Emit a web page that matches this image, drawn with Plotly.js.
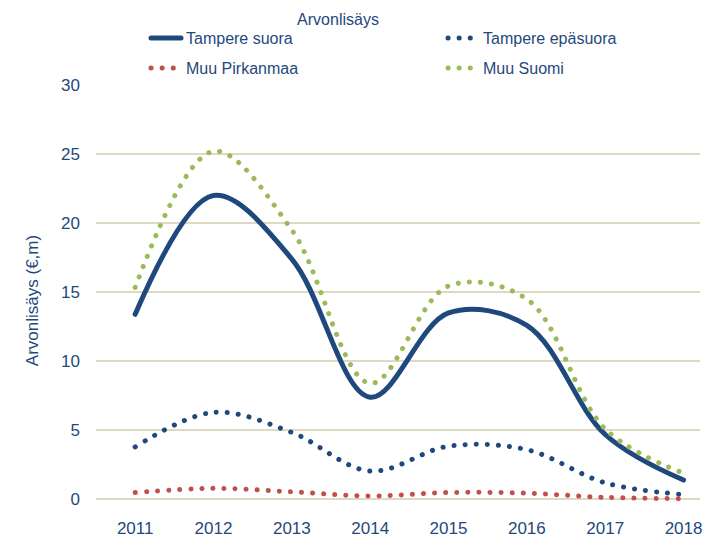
<!DOCTYPE html>
<html>
<head>
<meta charset="utf-8">
<script src="https://cdn.plot.ly/plotly-3.0.1.min.js"></script>
<style>
    html, body { margin: 0; padding: 0; background: #ffffff; }
    #chart { width: 705px; height: 541px; }
    /* round caps so the dotted series look like Excel's round dots */
    .js-line, .legendlines path { stroke-linecap: round; }
</style>
</head>
<body>
<div id="chart"></div>
<script>
// Chart data
const years = [2011, 2012, 2013, 2014, 2015, 2016, 2017, 2018];
const tampereSuora = [13.4, 22.0, 17.4, 7.4, 13.5, 12.6, 4.7, 1.4];
const tampereEpasuora = [3.8, 6.3, 4.85, 2.05, 3.85, 3.6, 1.2, 0.35];
const muuPirkanmaa = [0.5, 0.8, 0.55, 0.25, 0.5, 0.45, 0.15, 0.05];
const muuSuomi = [15.35, 25.2, 19.5, 8.4, 15.45, 14.5, 5.1, 1.9];

const textColor = '#1f497d';
const fontFamily = 'Liberation Sans, Arial, sans-serif';
const dotDash = '0.1px,11px';

function makeTrace(name, values, color, dash, legend) {
    return {
        x: years,
        y: values,
        type: 'scatter',
        mode: 'lines',
        name: name,
        legend: legend,
        line: {
            color: color,
            width: 5,
            dash: dash,
            shape: 'spline',
            smoothing: 1
        },
        hoverinfo: 'x+y+name'
    };
}

const chartData = [
    makeTrace('Tampere suora', tampereSuora, '#1f497d', 'solid', 'legend'),
    makeTrace('Tampere epäsuora', tampereEpasuora, '#1f497d', dotDash, 'legend'),
    makeTrace('Muu Pirkanmaa', muuPirkanmaa, '#c0504d', dotDash, 'legend2'),
    makeTrace('Muu Suomi', muuSuomi, '#9bbb59', dotDash, 'legend2')
];

const legendBase = {
    orientation: 'h',
    xref: 'container',
    yref: 'container',
    x: 146 / 705,
    xanchor: 'left',
    yanchor: 'middle',
    entrywidth: 252,
    entrywidthmode: 'pixels',
    bgcolor: 'rgba(0,0,0,0)',
    font: { family: fontFamily, size: 16, color: textColor },
    itemclick: false,
    itemdoubleclick: false
};

const layout = {
    width: 705,
    height: 541,
    paper_bgcolor: '#ffffff',
    plot_bgcolor: '#ffffff',
    font: { family: fontFamily, size: 17, color: textColor },
    title: {
        text: 'Arvonlisäys',
        font: { family: fontFamily, size: 16, color: textColor },
        xref: 'container',
        yref: 'container',
        x: 338 / 705,
        y: 1 - 19 / 541,
        xanchor: 'center',
        yanchor: 'middle'
    },
    margin: { l: 96, r: 5, t: 77, b: 25, pad: 0 },
    xaxis: {
        range: [2010.5, 2018.21],
        tickmode: 'array',
        tickvals: years,
        ticktext: years.map(String),
        ticks: '',
        showgrid: false,
        zeroline: false,
        showline: false,
        ticklabelstandoff: 0,
        tickfont: { family: fontFamily, size: 17, color: textColor }
    },
    yaxis: {
        range: [-1.2, 30],
        tick0: 0,
        dtick: 5,
        ticks: '',
        showgrid: true,
        gridcolor: '#ddd9c3',
        gridwidth: 1.5,
        zeroline: true,
        zerolinecolor: '#ddd9c3',
        zerolinewidth: 1.5,
        showline: false,
        ticklabelstandoff: 15,
        tickfont: { family: fontFamily, size: 17, color: textColor },
        title: {
            text: 'Arvonlisäys (€,m)',
            font: { family: fontFamily, size: 17, color: textColor },
            standoff: 18
        }
    },
    legend: Object.assign({}, legendBase, { y: 1 - 38 / 541 }),
    legend2: Object.assign({}, legendBase, { y: 1 - 68 / 541 }),
    showlegend: true
};

const config = {
    responsive: false,
    displayModeBar: false,
    displaylogo: false
};

Plotly.newPlot('chart', chartData, layout, config);
</script>
</body>
</html>
